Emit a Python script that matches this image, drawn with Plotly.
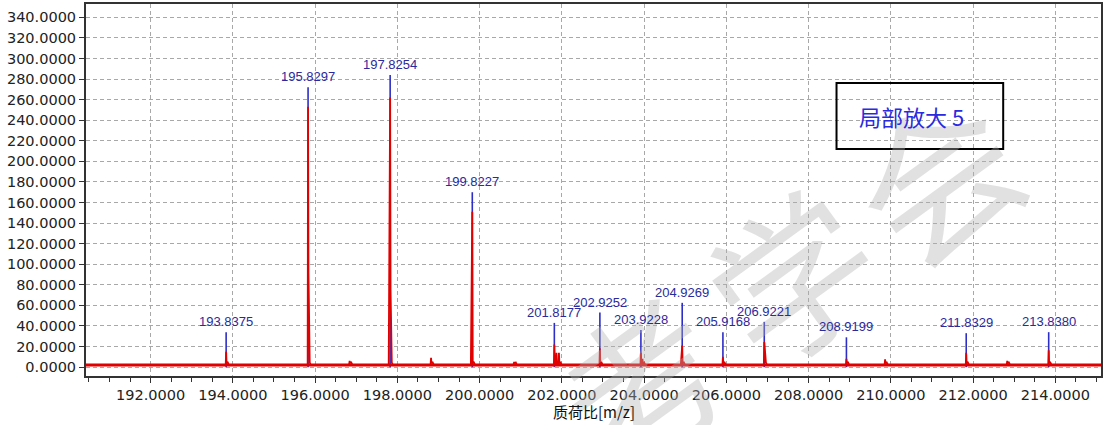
import plotly.graph_objects as go

# Centroid (labelled) peaks: m/z and stick intensity
label_mz = [193.8375, 195.8297, 197.8254, 199.8227, 201.8177, 202.9252, 203.9228,
            204.9269, 205.9168, 206.9221, 208.9199, 211.8329, 213.8380]
stick_int = [34, 272, 284, 170, 43, 53, 36, 62.5, 34, 44, 29, 33, 34]

# Profile spectrum peaks: apex position, apex height, left / right shoulder heights
profile_mz = [193.8375, 195.8297, 196.84, 197.8254, 198.82, 199.8227, 200.84,
              201.8177, 201.87, 201.93, 202.9252, 203.9228, 203.96, 204.9269,
              205.9168, 206.9221, 208.9199, 209.86, 211.8329, 212.83, 213.8380]
profile_top = [15, 253, 6, 262, 9, 151, 5, 22, 14, 14, 18, 14, 8, 21, 10, 24.5,
               8, 7.5, 14, 6, 16.5]
profile_left = [0, 0, 0, 146, 0, 123, 0, 0, 0, 0, 0, 0, 0, 18, 0, 0, 0, 0, 0, 0, 0]
profile_right = [0, 92, 0, 75, 0, 0, 0, 0, 0, 0, 0, 0, 0, 0, 0, 20, 0, 0, 0, 0, 0]
baseline_level = 2.0

x_range = [190.43, 215.11]
y_range = [-8.6, 352.9]

# watermark glyphs and their centres (pixel positions on the page)
watermark_chars = ["考", "学", "会"]
watermark_px = [640, 790, 935]
watermark_py = [378, 272, 172]

RED = "#e00000"
BLUE = "#2d2dc8"
LABEL_BLUE = "#2a2a9c"

W, H = 1105, 425
ML, MR, MT, MB = 86, 2, 4, 49
PW, PH = W - ML - MR, H - MT - MB


def paper_x(px_):
    return (px_ - ML) / PW


def paper_y(py_):
    return (H - MB - py_) / PH


# build the profile polyline from the peak table
px, py = [x_range[0]], [baseline_level]
for m, top, lft, rgt in zip(profile_mz, profile_top, profile_left, profile_right):
    px += [m - 0.035, m - 0.01, m, m + 0.01, m + 0.04, m + 0.07]
    py += [baseline_level, lft if lft else baseline_level + 1, top,
           rgt if rgt else baseline_level + 2, 4.5, baseline_level]
px.append(x_range[1])
py.append(baseline_level)

# stick segments for centroids
sx, sy = [], []
for m, h in zip(label_mz, stick_int):
    sx += [m, m, None]
    sy += [0, h, None]

fig = go.Figure()

# watermark
for ch, wx, wy in zip(watermark_chars, watermark_px, watermark_py):
    fig.add_annotation(x=paper_x(wx), y=paper_y(wy), xref="paper", yref="paper",
                       text=ch, showarrow=False, textangle=-36,
                       xanchor="center", yanchor="middle",
                       font=dict(family="Noto Sans CJK SC", size=160,
                                 color="rgba(175,175,175,0.38)"))

fig.add_trace(go.Scatter(x=sx, y=sy, mode="lines",
                         line=dict(color=BLUE, width=1.6), hoverinfo="skip"))
fig.add_trace(go.Scatter(x=[x_range[0], x_range[1]], y=[baseline_level, baseline_level],
                         mode="lines", line=dict(color=RED, width=3), hoverinfo="skip"))
fig.add_trace(go.Scatter(x=px, y=py, mode="lines",
                         line=dict(color=RED, width=1.8), hoverinfo="skip"))

for m, h in zip(label_mz, stick_int):
    fig.add_annotation(x=m, y=h, text=f"{m:.4f}", showarrow=False,
                       xanchor="center", yanchor="bottom", yshift=1,
                       font=dict(family="Liberation Sans", size=13, color=LABEL_BLUE))

# x-axis title
fig.add_annotation(x=0.5, y=0, xref="paper", yref="paper", yshift=-35,
                   text="质荷比[m/z]", showarrow=False, xanchor="center", yanchor="middle",
                   font=dict(family="Noto Sans CJK SC", size=15, color="#111"))

# caption box
fig.add_shape(type="rect", xref="paper", yref="paper",
              x0=paper_x(838), x1=paper_x(1005), y0=paper_y(149), y1=paper_y(83),
              line=dict(color="black", width=2), fillcolor="rgba(0,0,0,0)")
fig.add_annotation(x=paper_x(859), y=paper_y(116), xref="paper", yref="paper",
                   text="局部放大 5", showarrow=False, xanchor="left", yanchor="middle",
                   font=dict(family="Noto Sans CJK SC", size=22, color="#2a2ae0"))

tick_font = dict(family="DejaVu Sans", size=14.5, color="#222")
fig.update_xaxes(range=x_range, tickmode="linear", tick0=192, dtick=2,
                 tickformat=".4f", ticks="outside", ticklen=5, tickcolor="#333",
                 minor=dict(dtick=0.5, tick0=192, ticks="outside", ticklen=4, tickcolor="#333",
                            showgrid=False),
                 showgrid=True, gridcolor="#a8a8a8", griddash="4px,3px", gridwidth=1,
                 showline=True, linecolor="#333", linewidth=2, mirror=True,
                 zeroline=False, tickfont=tick_font)
fig.update_yaxes(range=y_range, tickmode="linear", tick0=0, dtick=20,
                 tickformat=".4f", ticks="outside", ticklen=5, tickcolor="#333",
                 showgrid=True, gridcolor="#a8a8a8", griddash="4px,3px", gridwidth=1,
                 showline=True, linecolor="#333", linewidth=2, mirror=True,
                 zeroline=False, tickfont=tick_font)

fig.update_layout(width=W, height=H, showlegend=False,
                  margin=dict(l=ML, r=MR, t=MT, b=MB),
                  plot_bgcolor="white", paper_bgcolor="white")

fig.write_html("out.html")
